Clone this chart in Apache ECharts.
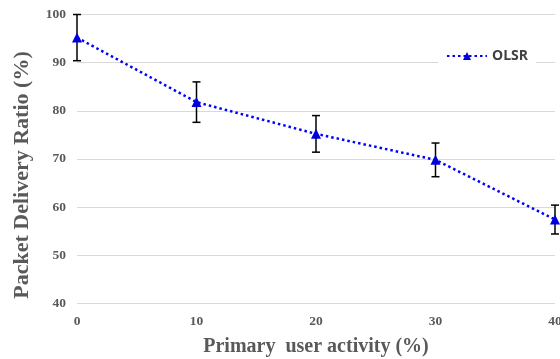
<!DOCTYPE html>
<html>
<head>
<meta charset="utf-8">
<script src="https://cdn.jsdelivr.net/npm/echarts@6/dist/echarts.min.js"></script>
<style>
  html, body { margin: 0; padding: 0; background: #fff; }
  #chart { width: 560px; height: 359px; }
</style>
</head>
<body>
<div id="chart"></div>
<script>
// primary user activity (%) on x, packet delivery ratio (%) on y
var activity = [0, 10, 20, 30, 40];
var pdrOlsr = [95.2, 81.8, 75.2, 69.8, 57.4];
var errOlsr = [4.8, 4.2, 3.8, 3.5, 3.0];

var axisFont = 'Liberation Serif, Times New Roman, serif';

var lineData = [];
var errData = [];
for (var i = 0; i < activity.length; i++) {
    lineData.push([activity[i], pdrOlsr[i]]);
    errData.push([activity[i], pdrOlsr[i] - errOlsr[i], pdrOlsr[i] + errOlsr[i]]);
}

var chart = echarts.init(document.getElementById('chart'));

chart.setOption({
    animation: false,
    backgroundColor: '#fff',
    grid: { left: 77, right: 5, top: 14.5, bottom: 55.7, outerBoundsMode: 'none' },
    // y title sits a little below the plot centre in the original, so it is placed by hand
    graphic: [{
        type: 'text',
        x: 22.5,
        y: 175,
        rotation: Math.PI / 2,
        style: {
            text: 'Packet Delivery Ratio (%)',
            fontFamily: axisFont, fontSize: 22, fontWeight: 'bold', fill: '#595959',
            align: 'center', verticalAlign: 'middle'
        }
    }],
    legend: {
        data: ['OLSR'],
        right: 24,
        top: 46,
        itemWidth: 40,
        itemHeight: 10,
        itemGap: 6,
        padding: [3, 8],
        backgroundColor: '#fff',
        textStyle: { fontFamily: 'Open Sans, sans-serif', fontSize: 14, fontWeight: 'bold', color: '#404040' }
    },
    xAxis: {
        type: 'value',
        min: 0, max: 40, interval: 10,
        name: 'Primary  user activity (%)',
        nameLocation: 'middle',
        nameGap: 34,
        nameTextStyle: { fontFamily: axisFont, fontSize: 20, fontWeight: 'bold', color: '#595959' },
        axisLine: { show: false },
        axisTick: { show: false },
        splitLine: { show: false },
        axisLabel: { fontFamily: axisFont, fontSize: 13.5, fontWeight: 'bold', color: '#595959', margin: 11 }
    },
    yAxis: {
        type: 'value',
        min: 40, max: 100, interval: 10,
        axisLine: { show: false },
        axisTick: { show: false },
        splitLine: { lineStyle: { color: '#d9d9d9', width: 1 } },
        axisLabel: { fontFamily: axisFont, fontSize: 13.5, fontWeight: 'bold', color: '#595959', margin: 11 }
    },
    series: [
        {
            name: 'OLSR',
            type: 'line',
            data: lineData,
            symbol: 'triangle',
            symbolSize: 10,
            itemStyle: { color: '#0000dd' },
            lineStyle: { color: '#0000ff', width: 2.5, type: [2.5, 3], cap: 'butt' },
            z: 3
        },
        {
            name: 'err',
            type: 'custom',
            data: errData,
            z: 2,
            renderItem: function (params, api) {
                var x = api.value(0);
                var lo = api.coord([x, api.value(1)]);
                var hi = api.coord([x, api.value(2)]);
                var hw = 4;
                var st = { stroke: '#000', lineWidth: 1.5 };
                return {
                    type: 'group',
                    children: [
                        { type: 'line', shape: { x1: lo[0], y1: lo[1], x2: hi[0], y2: hi[1] }, style: st },
                        { type: 'line', shape: { x1: lo[0] - hw, y1: lo[1], x2: lo[0] + hw, y2: lo[1] }, style: st },
                        { type: 'line', shape: { x1: hi[0] - hw, y1: hi[1], x2: hi[0] + hw, y2: hi[1] }, style: st }
                    ]
                };
            }
        }
    ]
});
</script>
</body>
</html>
